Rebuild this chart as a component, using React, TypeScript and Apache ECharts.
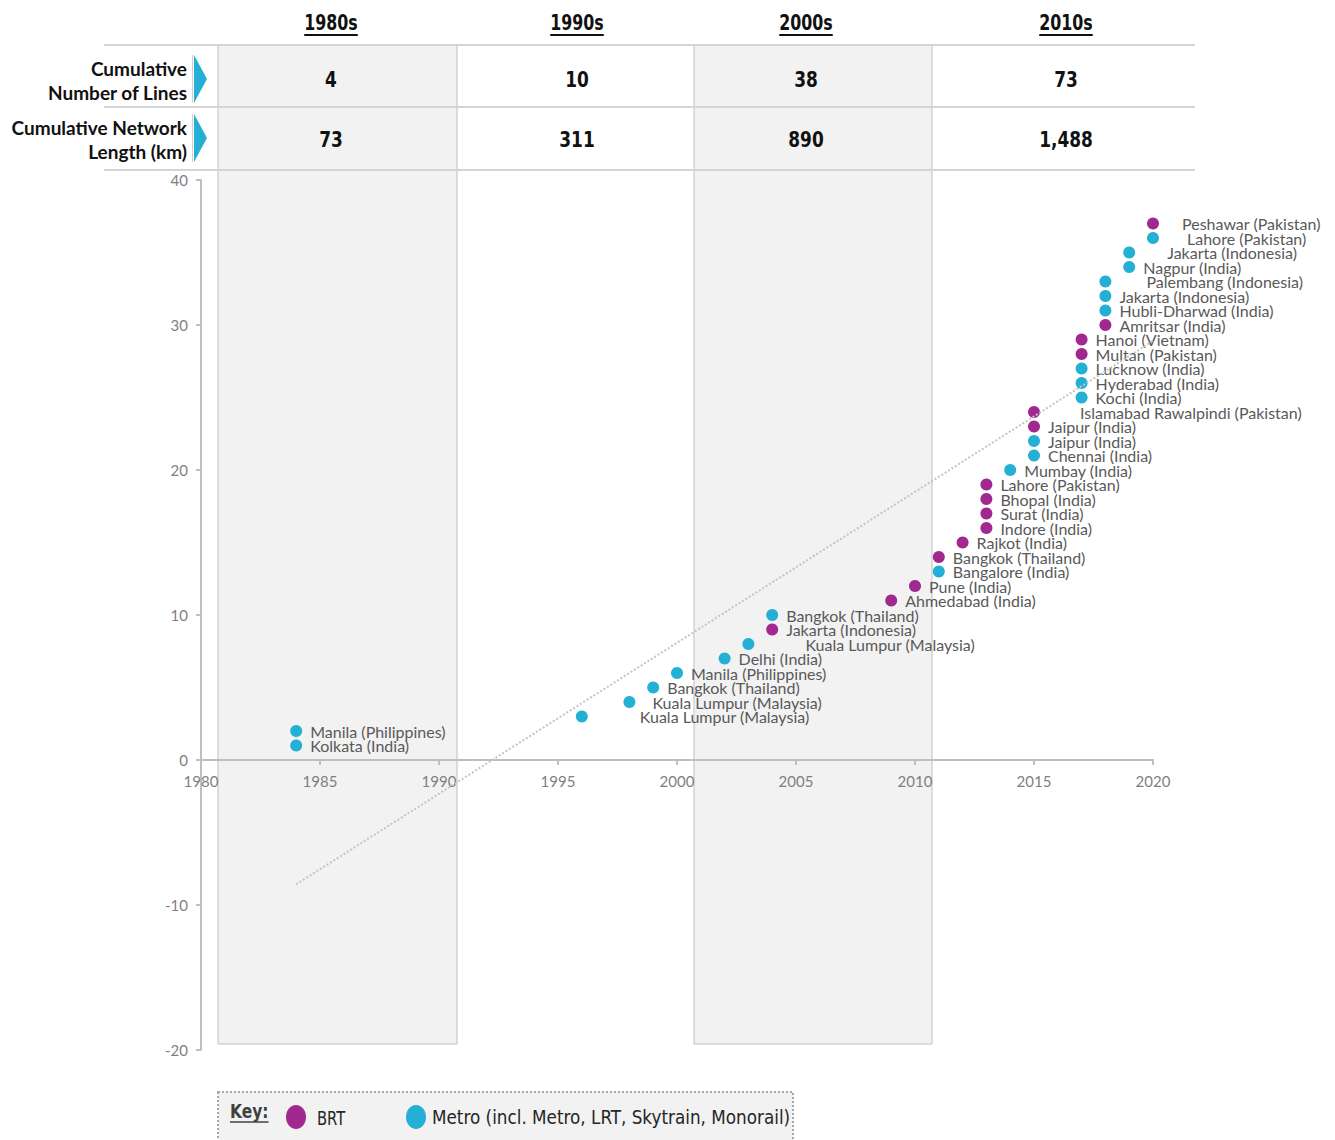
import React, { useEffect, useRef } from "react";
import * as echarts from "echarts";

// ---------- data ----------
const decades = ["1980s", "1990s", "2000s", "2010s"];
const cumulativeLines = ["4", "10", "38", "73"];
const cumulativeLengthKm = ["73", "311", "890", "1,488"];
const rowLabels = [
  ["Cumulative", "Number of Lines"],
  ["Cumulative Network", "Length (km)"],
];

const cities = [
  "Kolkata (India)",
  "Manila (Philippines)",
  "Kuala Lumpur (Malaysia)",
  "Kuala Lumpur (Malaysia)",
  "Bangkok (Thailand)",
  "Manila (Philippines)",
  "Delhi (India)",
  "Kuala Lumpur (Malaysia)",
  "Jakarta (Indonesia)",
  "Bangkok (Thailand)",
  "Ahmedabad (India)",
  "Pune (India)",
  "Bangalore (India)",
  "Bangkok (Thailand)",
  "Rajkot (India)",
  "Indore (India)",
  "Surat (India)",
  "Bhopal (India)",
  "Lahore (Pakistan)",
  "Mumbay (India)",
  "Chennai (India)",
  "Jaipur (India)",
  "Jaipur (India)",
  "Islamabad Rawalpindi (Pakistan)",
  "Kochi (India)",
  "Hyderabad (India)",
  "Lucknow (India)",
  "Multan (Pakistan)",
  "Hanoi (Vietnam)",
  "Amritsar (India)",
  "Hubli-Dharwad (India)",
  "Jakarta (Indonesia)",
  "Palembang (Indonesia)",
  "Nagpur (India)",
  "Jakarta (Indonesia)",
  "Lahore (Pakistan)",
  "Peshawar (Pakistan)",
];
const openingYears = [
  1984, 1984, 1996, 1998, 1999, 2000, 2002, 2003, 2004, 2004, 2009, 2010, 2011,
  2011, 2012, 2013, 2013, 2013, 2013, 2014, 2015, 2015, 2015, 2015, 2017, 2017,
  2017, 2017, 2017, 2018, 2018, 2018, 2018, 2019, 2019, 2020, 2020,
];
const lineNumbers = [
  1, 2, 3, 4, 5, 6, 7, 8, 9, 10, 11, 12, 13, 14, 15, 16, 17, 18, 19, 20, 21, 22,
  23, 24, 25, 26, 27, 28, 29, 30, 31, 32, 33, 34, 35, 36, 37,
];
const modes = [
  "Metro", "Metro", "Metro", "Metro", "Metro", "Metro", "Metro", "Metro", "BRT",
  "Metro", "BRT", "BRT", "Metro", "BRT", "BRT", "BRT", "BRT", "BRT", "BRT",
  "Metro", "Metro", "Metro", "BRT", "BRT", "Metro", "Metro", "Metro", "BRT",
  "BRT", "BRT", "Metro", "Metro", "Metro", "Metro", "Metro", "Metro", "BRT",
];
const legendNames = ["BRT", "Metro (incl. Metro, LRT, Skytrain, Monorail)"];

// ---------- layout / styles (not data) ----------
const labelShift: Record<number, number> = {
  2: 44, 3: 9, 7: 43, 23: 32, 32: 27, 34: 24, 35: 20, 36: 15,
};
const COLORS: Record<string, string> = { BRT: "#a0288e", Metro: "#23b0d4" };
const FONT = "Lato, 'Open Sans', sans-serif";
const NARROW = "'Liberation Sans Narrow', 'DejaVu Sans Condensed', Roboto, sans-serif";
const headerX = [331, 577, 806, 1066];
const colEdges = [218, 457, 694, 932, 1195];

function textWidth(text: string, font: string) {
  const ctx = document.createElement("canvas").getContext("2d");
  if (!ctx) return text.length * 10;
  ctx.font = font;
  return ctx.measureText(text).width;
}

function txt(x: number, y: number, text: string, o: any = {}) {
  const align = o.align || "left";
  return {
    type: "text",
    x,
    y,
    scaleX: o.scaleX ?? 1,
    z: o.z ?? 20,
    silent: true,
    style: {
      text,
      fill: o.fill || "#111",
      fontSize: o.fontSize || 16,
      fontFamily: o.fontFamily || FONT,
      fontWeight: o.fontWeight || "normal",
      align,
      textAlign: align,
      verticalAlign: "middle",
      textVerticalAlign: "middle",
    },
  };
}

export default function App() {
  const ref = useRef<HTMLDivElement>(null);

  useEffect(() => {
    if (!ref.current) return;
    const chart = echarts.init(ref.current, undefined, { renderer: "svg" });

    // linear trend line (least squares) from the data
    const n = openingYears.length;
    const mx = openingYears.reduce((a, b) => a + b, 0) / n;
    const my = lineNumbers.reduce((a, b) => a + b, 0) / n;
    let sxy = 0;
    let sxx = 0;
    for (let i = 0; i < n; i++) {
      sxy += (openingYears[i] - mx) * (lineNumbers[i] - my);
      sxx += (openingYears[i] - mx) ** 2;
    }
    const slope = sxy / sxx;
    const x0 = Math.min(...openingYears);
    const x1 = Math.max(...openingYears);
    const trend = [
      [x0, my + slope * (x0 - mx)],
      [x1, my + slope * (x1 - mx)],
    ];

    const seriesFor = (mode: string) => ({
      type: "scatter",
      name: mode,
      symbol: "circle",
      symbolSize: 12,
      z: 3,
      itemStyle: { color: COLORS[mode], opacity: 1 },
      label: {
        show: true,
        position: "right",
        distance: 8,
        formatter: "{b}",
        color: "#595959",
        fontSize: 16,
        fontFamily: FONT,
      },
      data: cities
        .map((c, i) => ({ c, i }))
        .filter(({ i }) => modes[i] === mode)
        .map(({ c, i }) => ({
          name: c,
          value: [openingYears[i], lineNumbers[i]],
          label: labelShift[i] ? { offset: [labelShift[i], 0] } : undefined,
        })),
    });

    const graphics: any[] = [];
    // shaded decade columns
    [0, 2].forEach((k) => {
      graphics.push({
        type: "rect",
        z: -10,
        silent: true,
        shape: { x: colEdges[k], y: 45, width: colEdges[k + 1] - colEdges[k], height: 999 },
        style: { fill: "#f2f2f2", stroke: "#bfbfbf", lineWidth: 1 },
      });
    });
    // table row lines
    [45, 107, 170].forEach((y) => {
      graphics.push({
        type: "line",
        z: 5,
        silent: true,
        shape: { x1: 104, y1: y, x2: 1195, y2: y },
        style: { stroke: "#d4d4d4", lineWidth: 2 },
      });
    });
    // headers
    const headScale = 0.8;
    decades.forEach((d, i) => {
      const font = `bold 22px ${NARROW}`;
      const w = textWidth(d, font) * headScale;
      graphics.push(
        txt(headerX[i], 23, d, { align: "center", fontSize: 22, fontWeight: "bold", fontFamily: NARROW, scaleX: headScale })
      );
      graphics.push({
        type: "line",
        z: 20,
        silent: true,
        shape: { x1: headerX[i] - w / 2, y1: 35, x2: headerX[i] + w / 2, y2: 35 },
        style: { stroke: "#111", lineWidth: 2 },
      });
    });
    // row labels + arrows
    const rowMid = [79, 138];
    rowLabels.forEach((lines, r) => {
      graphics.push(txt(187, rowMid[r] - 11, lines[0], { align: "right", fontSize: 19, fontWeight: "bold" }));
      graphics.push(txt(187, rowMid[r] + 13, lines[1], { align: "right", fontSize: 19, fontWeight: "bold" }));
      graphics.push({
        type: "line",
        z: 20,
        silent: true,
        shape: { x1: 192.5, y1: rowMid[r] - 24, x2: 192.5, y2: rowMid[r] + 24 },
        style: { stroke: "#d0d0d0", lineWidth: 1 },
      });
      graphics.push({
        type: "polygon",
        z: 20,
        silent: true,
        shape: { points: [[194, rowMid[r] - 24], [207, rowMid[r]], [194, rowMid[r] + 24]] },
        style: { fill: "#23b0d4" },
      });
    });
    // values
    const valScale = 0.9;
    cumulativeLines.forEach((v, i) => {
      graphics.push(
        txt(headerX[i], 80, v, { align: "center", fontSize: 21, fontWeight: "bold", fontFamily: NARROW, scaleX: valScale })
      );
    });
    cumulativeLengthKm.forEach((v, i) => {
      graphics.push(
        txt(headerX[i], 140, v, { align: "center", fontSize: 21, fontWeight: "bold", fontFamily: NARROW, scaleX: valScale })
      );
    });
    // key box
    graphics.push({
      type: "rect",
      z: 15,
      silent: true,
      shape: { x: 218, y: 1092, width: 575, height: 60 },
      style: { fill: "#f2f2f2", stroke: "#a6a6a6", lineWidth: 2, lineDash: [2, 2] },
    });
    {
      const font = `bold 20px ${NARROW}`;
      const w = textWidth("Key:", font) * 0.86;
      graphics.push(
        txt(230, 1111, "Key:", { fontSize: 20, fontWeight: "bold", fontFamily: NARROW, fill: "#404040", scaleX: 0.86 })
      );
      graphics.push({
        type: "line",
        z: 20,
        silent: true,
        shape: { x1: 230, y1: 1122, x2: 230 + w, y2: 1122 },
        style: { stroke: "#404040", lineWidth: 1.5 },
      });
    }
    graphics.push({
      type: "ellipse", z: 20, silent: true,
      shape: { cx: 296, cy: 1117, rx: 10, ry: 12 },
      style: { fill: COLORS.BRT },
    });
    graphics.push(txt(317, 1118, legendNames[0], { fontSize: 20, fontFamily: NARROW, fill: "#262626", scaleX: 0.82 }));
    graphics.push({
      type: "ellipse", z: 20, silent: true,
      shape: { cx: 416, cy: 1117, rx: 10, ry: 12 },
      style: { fill: COLORS.Metro },
    });
    graphics.push(txt(432, 1117, legendNames[1], { fontSize: 20, fontFamily: NARROW, fill: "#262626", scaleX: 0.935 }));

    const axisColor = "#bfbfbf";
    chart.setOption({
      animation: false,
      backgroundColor: "#ffffff",
      grid: { left: 201, right: 182, top: 180, bottom: 90, containLabel: false },
      xAxis: {
        type: "value",
        min: 1980,
        max: 2020,
        interval: 5,
        position: "bottom",
        offset: -290,
        axisLine: { show: true, onZero: false, lineStyle: { color: axisColor, width: 2 } },
        axisTick: { show: true, length: 5, lineStyle: { color: axisColor, width: 2 } },
        axisLabel: {
          color: "#7f7f7f",
          fontSize: 15,
          fontFamily: FONT,
          margin: 13,
          formatter: (v: number) => String(v),
        },
        splitLine: { show: false },
      },
      yAxis: {
        type: "value",
        min: -20,
        max: 40,
        interval: 10,
        axisLine: { show: true, onZero: false, lineStyle: { color: axisColor, width: 2 } },
        axisTick: { show: true, length: 5, lineStyle: { color: axisColor, width: 2 } },
        axisLabel: { color: "#7f7f7f", fontSize: 15, fontFamily: FONT, margin: 13 },
        splitLine: { show: false },
      },
      graphic: graphics,
      series: [
        seriesFor("Metro"),
        seriesFor("BRT"),
        {
          type: "line",
          name: "Linear trend",
          data: trend,
          symbol: "none",
          silent: true,
          z: 4,
          lineStyle: { color: "#c4c4c4", width: 2, type: [2, 2] },
        },
      ],
    });

    return () => chart.dispose();
  }, []);

  return (
    <div
      ref={ref}
      style={{ position: "absolute", left: 0, top: 0, width: 1335, height: 1140, background: "#fff" }}
    />
  );
}
